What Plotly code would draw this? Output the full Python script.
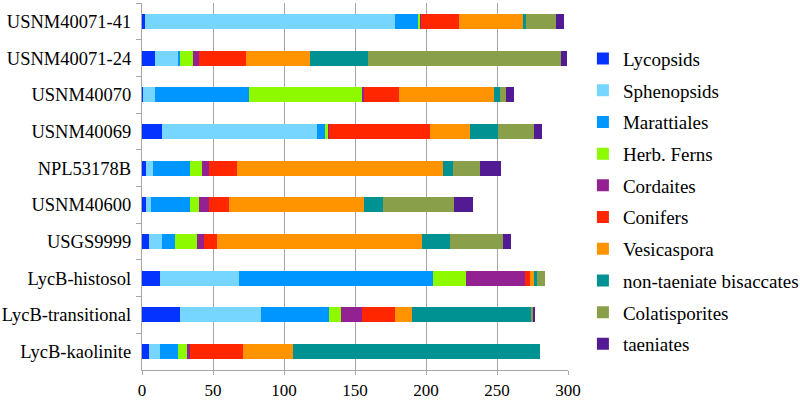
import plotly.graph_objects as go

samples = ["USNM40071-41", "USNM40071-24", "USNM40070", "USNM40069", "NPL53178B",
           "USNM40600", "USGS9999", "LycB-histosol", "LycB-transitional", "LycB-kaolinite"]

groups = ["Lycopsids", "Sphenopsids", "Marattiales", "Herb. Ferns", "Cordaites",
          "Conifers", "Vesicaspora", "non-taeniate bisaccates", "Colatisporites", "taeniates"]

lycopsids      = [2, 9, 1, 14, 3, 3, 5, 13, 27, 5]
sphenopsids    = [176, 17, 8, 109, 5, 3, 9, 55, 57, 8]
marattiales    = [17, 1, 66, 6, 26, 28, 9, 137, 48, 12]
herb_ferns     = [1, 9, 80, 2, 8, 6, 16, 23, 8, 7]
cordaites      = [0.5, 4, 1, 1, 5, 7, 5, 42, 15, 2]
conifers       = [27, 33, 25, 71, 20, 14, 9, 3, 23, 37]
vesicaspora    = [45, 45, 67, 28, 145, 95, 144, 3, 12, 35]
non_taeniate   = [2, 41, 4, 20, 7, 14, 20, 2, 84, 174]
colatisporites = [21, 136, 4, 25, 19, 50, 37, 6, 1, 0]
taeniates      = [6, 4, 6, 6, 15, 13, 6, 0, 2, 0]

series = [lycopsids, sphenopsids, marattiales, herb_ferns, cordaites,
          conifers, vesicaspora, non_taeniate, colatisporites, taeniates]
colors = ["#0433FF", "#76D6FF", "#0096FF", "#8EFA00", "#942192",
          "#FF2600", "#FF9300", "#009193", "#8A9F4A", "#531B93"]

x_ticks = [0, 50, 100, 150, 200, 250, 300]

font_family = "Liberation Serif"

fig = go.Figure()
for name, vals, col in zip(groups, series, colors):
    fig.add_trace(go.Bar(
        y=samples, x=vals, name=name, orientation="h",
        marker=dict(color=col, line=dict(width=0)),
        legendgroup=name,
    ))

fig.update_layout(
    barmode="stack",
    bargap=0.59,
    width=800, height=400,
    margin=dict(l=142, r=232, t=3, b=30, autoexpand=False),
    plot_bgcolor="white", paper_bgcolor="white",
    font=dict(family=font_family, size=18.5, color="#000"),
    legend=dict(
        x=1.035, xanchor="left", xref="paper",
        y=0.46, yanchor="middle",
        traceorder="grouped",
        tracegroupgap=4,
        font=dict(family=font_family, size=19, color="#000"),
        itemwidth=30,
        bgcolor="rgba(0,0,0,0)",
    ),
    showlegend=True,
)
fig.update_xaxes(
    range=[0, 300], tickvals=x_ticks,
    showgrid=True, gridcolor="#A6A6A6", gridwidth=1.2,
    showline=True, linecolor="#A6A6A6", linewidth=1.2,
    ticks="outside", tickcolor="#A6A6A6", ticklen=4,
    zeroline=False, automargin=False,
    tickfont=dict(family=font_family, size=17),
    ticklabelstandoff=0,
)
fig.update_yaxes(
    categoryorder="array", categoryarray=samples, autorange="reversed",
    showline=True, linecolor="#A6A6A6", linewidth=1.2,
    ticks="outside", tickcolor="#A6A6A6", ticklen=5,
    tickson="boundaries",
    showgrid=False, automargin=False,
    tickfont=dict(family=font_family, size=18.5),
    ticklabelstandoff=6,
)

fig.write_html("out.html", config={"displayModeBar": False},
               post_script="document.body.style.margin='0';")
